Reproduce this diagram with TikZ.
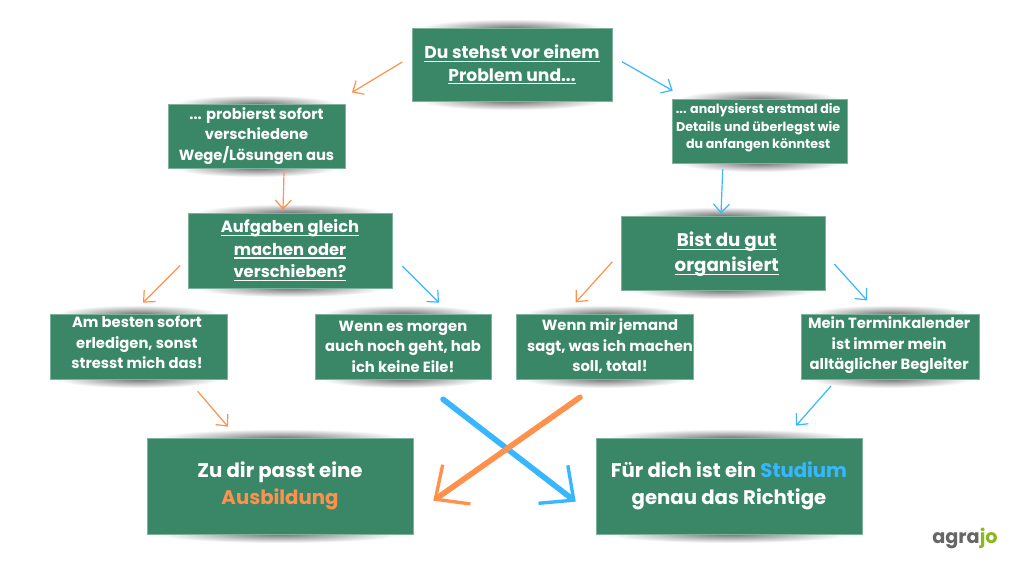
\documentclass[tikz,border=0pt]{standalone}
\usepackage{fontspec}
\setmainfont{Poppins}
\usepackage{tikz}
\usetikzlibrary{arrows.meta, calc}
\definecolor{boxgreen}{HTML}{3A8767}
\definecolor{boxline}{HTML}{7DB39C}
\definecolor{orangeline}{HTML}{FF914D}
\definecolor{blueline}{HTML}{38B6FF}
\definecolor{logogray}{HTML}{666666}
\definecolor{logogreen}{HTML}{8DB71E}
\tikzstyle{box} = [rectangle, text centered, align=center, fill=boxgreen, draw=boxline,
                   line width=0.4pt, inner sep=0pt, text=white]
\tikzstyle{smalltext} = [font=\fontsize{10.5}{14.6}\selectfont\bfseries]
\tikzstyle{tinytext} = [font=\fontsize{9}{12.4}\selectfont\bfseries]
\tikzstyle{midtext} = [font=\fontsize{12.2}{16}\selectfont\bfseries]
\tikzstyle{aufgabentext} = [font=\fontsize{11.6}{16}\selectfont\bfseries]
\tikzstyle{organisierttext} = [font=\fontsize{13}{17.7}\selectfont\bfseries]
\tikzstyle{bigtext} = [font=\fontsize{14}{19.2}\selectfont\bfseries]
\tikzstyle{thinorange} = [orangeline, line width=0.85pt, -{Straight Barb[length=2.2mm,width=4mm]}]
\tikzstyle{thinblue} = [blueline, line width=0.85pt, -{Straight Barb[length=2.2mm,width=4mm]}]
\tikzstyle{bigorange} = [orangeline, line width=4pt, line cap=round,
                         -{Straight Barb[length=6.5mm,width=12mm,line width=2.4pt]}]
\tikzstyle{bigblue} = [blueline, line width=4pt, line cap=round,
                       -{Straight Barb[length=6.5mm,width=12mm,line width=2.4pt]}]
\newcommand{\drawBox}[7]
{
    \shade [inner color=black!55, outer color=white] (#2, {#3-#5/2}) ellipse ({0.46*#4} and 9);
    \shade [inner color=black!55, outer color=white] (#2, {#3+#5/2}) ellipse ({0.46*#4} and 9);
    \node (#1) [box, #6, minimum width=#4*0.025cm, minimum height=#5*0.025cm] at (#2, #3) {#7};
}
\newcommand{\drawLink}[5]
{
    \draw [#1] ($(#2)+(#3)$) -- ($(#4)+(#5)$);
}
\newcommand{\moveText}[3]
{
    \raisebox{#2}[0pt][0pt]{\makebox[0pt]{\hspace*{#1}\begin{tabular}{@{}c@{}}#3\end{tabular}}}
}
\newcommand{\lineText}[1]
{%
    \setbox0=\hbox{#1}\rlap{\rule[-2.2pt]{\wd0}{0.8pt}}\box0%
}

\begin{document}
\begin{tikzpicture}[x=0.025cm, y=-0.025cm]
\useasboundingbox [fill=white] (0,0) rectangle (1024,576);

\drawBox{problem}{512}{64.5}{200}{73}{midtext}{\lineText{Du stehst vor einem}\\\lineText{Problem und...}}
\drawBox{probiert}{256.5}{136}{177}{64}{smalltext}{... probierst sofort\\verschiedene\\Wege/Lösungen aus}
\drawBox{analyse}{759.5}{131}{175}{64}{tinytext}{\moveText{0pt}{0pt}{... analysierst erstmal die\\Details und überlegst wie\\du anfangen könntest}}
\drawBox{aufgaben}{290}{250.5}{204}{75}{aufgabentext}{\lineText{Aufgaben gleich}\\\lineText{machen oder}\\\lineText{verschieben?}}
\drawBox{organisiert}{723}{253}{204}{74}{organisierttext}{\moveText{8pt}{-4pt}{\lineText{Bist du gut}\\\lineText{organisiert}}}

\drawBox{sofort}{138.5}{346.5}{177}{65}{smalltext}{\moveText{0pt}{-1pt}{Am besten sofort\\erledigen, sonst\\stresst mich das!}}
\drawBox{morgen}{403}{346.5}{176}{65}{smalltext}{Wenn es morgen\\auch noch geht, hab\\ich keine Eile!}
\drawBox{jemand}{604.5}{346.5}{177}{65}{smalltext}{\moveText{10pt}{-3.2pt}{Wenn mir jemand\\sagt, was ich machen\\soll, total!}}
\drawBox{kalender}{890}{346.5}{178}{65}{smalltext}{\moveText{1pt}{-1.9pt}{Mein Terminkalender\\ist immer mein\\alltäglicher Begleiter}}

\drawBox{ausbildung}{280}{486}{266}{96}{bigtext}{Zu dir passt eine\\\textcolor{orangeline}{Ausbildung}}
\drawBox{studium}{729}{486}{266}{96}{bigtext}{Für dich ist ein \textcolor{blueline}{Studium}\\genau das Richtige}

\drawLink{thinorange}{problem.west}{-9.5,-2.5}{probiert.north east}{6.7,-11.3}
\drawLink{thinblue}{problem.east}{9.7,-2.8}{analyse.north west}{1,-8}
\drawLink{thinorange}{probiert.south}{27.5,3.7}{aufgaben.north}{-7,-3}
\drawLink{thinblue}{analyse.south}{-36.8,6}{organisiert.north}{-2,-2}

\drawLink{thinorange}{aufgaben.west}{-7.5,15}{sofort.north}{4.5,-11}
\drawLink{thinblue}{aufgaben.east}{10,15.5}{morgen.north}{36,-11}
\drawLink{thinorange}{organisiert.west}{-8.3,8.7}{jemand.north}{-28.8,-11.3}
\drawLink{thinblue}{organisiert.east}{9,11}{kalender.north}{-23,-13.3}

\drawLink{thinorange}{sofort.south}{59.2,12}{ausbildung.north}{-52,-11}
\drawLink{thinblue}{kalender.south}{-59,6.7}{studium.north}{67,-12}

\drawLink{bigblue}{morgen.south}{40,20}{studium.west}{-20,15.7}
\drawLink{bigorange}{jemand.south}{-24.5,18}{ausbildung.east}{20,14.7}

\node (logo) [font=\fontsize{13.7}{18}\selectfont\bfseries] at (965,538) {\textcolor{logogray}{agra}\textcolor{logogreen}{jo}};

\end{tikzpicture}
\end{document}
